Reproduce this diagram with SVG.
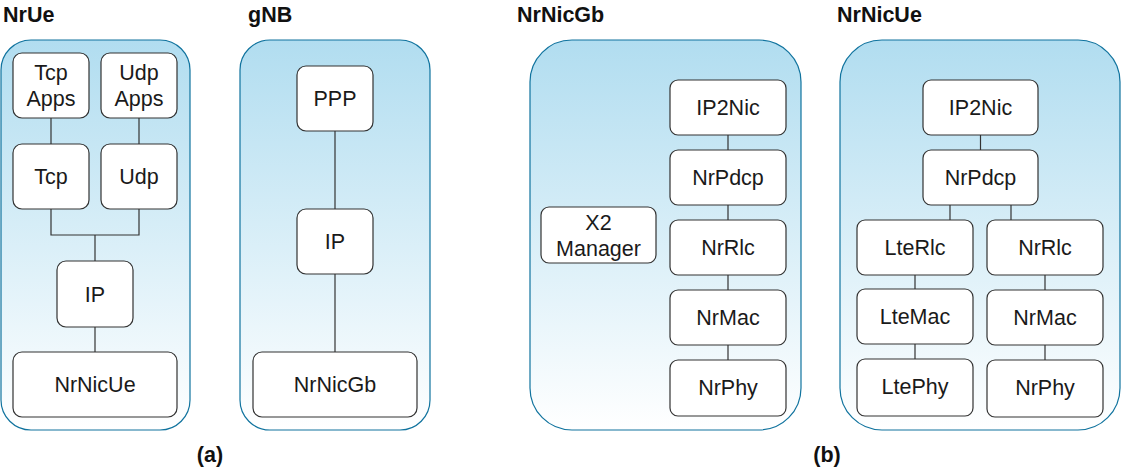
<svg xmlns="http://www.w3.org/2000/svg" width="1122" height="471" viewBox="0 0 1122 471">
<defs>
<linearGradient id="cg" x1="0" y1="0" x2="0" y2="1">
<stop offset="0" stop-color="#b1ddf0"/>
<stop offset="1" stop-color="#ffffff"/>
</linearGradient>
</defs>
<style>
.cont{fill:url(#cg);stroke:#10739e;stroke-width:1.2}
.box{fill:#ffffff;stroke:#333333;stroke-width:1.2}
.t{font-family:"Liberation Sans",Arial,sans-serif;font-size:21.5px;fill:#1a1a1a;text-anchor:middle}
.title{font-family:"Liberation Sans",Arial,sans-serif;font-size:21.5px;font-weight:bold;fill:#111111}
.cap{font-family:"Liberation Sans",Arial,sans-serif;font-size:21.5px;font-weight:bold;fill:#111111;text-anchor:middle}
.ln{fill:none;stroke:#333333;stroke-width:1.2}
</style>
<rect width="1122" height="471" fill="#ffffff"/>

<g id="titles">
<text class="title" x="3" y="22">NrUe</text>
<text class="title" x="248" y="22">gNB</text>
<text class="title" x="517" y="22">NrNicGb</text>
<text class="title" x="837" y="22">NrNicUe</text>
<text class="cap" x="210" y="462">(a)</text>
<text class="cap" x="827" y="462">(b)</text>
</g>

<g id="containers">
<rect id="nrue" class="cont" x="1" y="40" width="189" height="390" rx="30" ry="30"/>
<rect id="gnb" class="cont" x="240" y="40" width="190" height="390" rx="30" ry="30"/>
<rect id="nrnicgb" class="cont" x="530" y="40" width="271" height="390" rx="42" ry="42"/>
<rect id="nrnicue" class="cont" x="840" y="40" width="280" height="390" rx="42" ry="42"/>
</g>

<g id="connectors">
<path class="ln" d="M51 118V144"/>
<path class="ln" d="M139 118V144"/>
<path class="ln" d="M51 209V235H139V209"/>
<path class="ln" d="M95 235V261"/>
<path class="ln" d="M95 327V352"/>
<path class="ln" d="M335 131V209"/>
<path class="ln" d="M335 274V352"/>
<path class="ln" d="M728 135V150M728 205V220M728 275V290M728 345V360"/>
<path class="ln" d="M980.5 135V150"/>
<path class="ln" d="M950 205V220"/>
<path class="ln" d="M1011 205V220"/>
<path class="ln" d="M915 275V289M915 344V359"/>
<path class="ln" d="M1045 275V290M1045 345V360"/>
</g>

<g id="n-tcpapps"><rect class="box" x="13" y="53" width="76" height="65" rx="9"/><text class="t" x="51" y="80">Tcp</text><text class="t" x="51" y="106">Apps</text></g>
<g id="n-udpapps"><rect class="box" x="101" y="53" width="76" height="65" rx="9"/><text class="t" x="139" y="80">Udp</text><text class="t" x="139" y="106">Apps</text></g>
<g id="n-tcp"><rect class="box" x="13" y="144" width="76" height="65" rx="9"/><text class="t" x="51" y="184">Tcp</text></g>
<g id="n-udp"><rect class="box" x="101" y="144" width="76" height="65" rx="9"/><text class="t" x="139" y="184">Udp</text></g>
<g id="n-ip-ue"><rect class="box" x="57" y="261" width="76" height="66" rx="9"/><text class="t" x="95" y="302">IP</text></g>
<g id="n-nrnicue"><rect class="box" x="13" y="352" width="164" height="65" rx="9"/><text class="t" x="95" y="392">NrNicUe</text></g>

<g id="n-ppp"><rect class="box" x="297" y="66" width="76" height="65" rx="9"/><text class="t" x="335" y="106">PPP</text></g>
<g id="n-ip-gnb"><rect class="box" x="297" y="209" width="76" height="65" rx="9"/><text class="t" x="335" y="249">IP</text></g>
<g id="n-nrnicgb"><rect class="box" x="253" y="352" width="164" height="65" rx="9"/><text class="t" x="335" y="392">NrNicGb</text></g>

<g id="n-gb-ip2nic"><rect class="box" x="670" y="80" width="116" height="55" rx="8"/><text class="t" x="728" y="115">IP2Nic</text></g>
<g id="n-gb-nrpdcp"><rect class="box" x="670" y="150" width="116" height="55" rx="8"/><text class="t" x="728" y="185">NrPdcp</text></g>
<g id="n-gb-nrrlc"><rect class="box" x="670" y="220" width="116" height="55" rx="8"/><text class="t" x="728" y="255">NrRlc</text></g>
<g id="n-gb-nrmac"><rect class="box" x="670" y="290" width="116" height="55" rx="8"/><text class="t" x="728" y="325">NrMac</text></g>
<g id="n-gb-nrphy"><rect class="box" x="670" y="360" width="116" height="56" rx="8"/><text class="t" x="728" y="395">NrPhy</text></g>
<g id="n-x2"><rect class="box" x="541" y="207" width="115" height="56" rx="8"/><text class="t" x="598.5" y="229.5">X2</text><text class="t" x="598.5" y="255.5">Manager</text></g>

<g id="n-ue-ip2nic"><rect class="box" x="923" y="80" width="115" height="55" rx="8"/><text class="t" x="980.5" y="115">IP2Nic</text></g>
<g id="n-ue-nrpdcp"><rect class="box" x="923" y="150" width="115" height="55" rx="8"/><text class="t" x="980.5" y="185">NrPdcp</text></g>
<g id="n-ue-ltrlc"><rect class="box" x="857" y="220" width="116" height="55" rx="8"/><text class="t" x="915" y="255">LteRlc</text></g>
<g id="n-ue-nrrlc"><rect class="box" x="987" y="220" width="116" height="55" rx="8"/><text class="t" x="1045" y="255">NrRlc</text></g>
<g id="n-ue-ltemac"><rect class="box" x="857" y="289" width="116" height="55" rx="8"/><text class="t" x="915" y="324">LteMac</text></g>
<g id="n-ue-nrmac"><rect class="box" x="987" y="290" width="116" height="55" rx="8"/><text class="t" x="1045" y="325">NrMac</text></g>
<g id="n-ue-ltephy"><rect class="box" x="857" y="359" width="116" height="57" rx="8"/><text class="t" x="915" y="394">LtePhy</text></g>
<g id="n-ue-nrphy"><rect class="box" x="987" y="360" width="116" height="57" rx="8"/><text class="t" x="1045" y="395">NrPhy</text></g>
</svg>
